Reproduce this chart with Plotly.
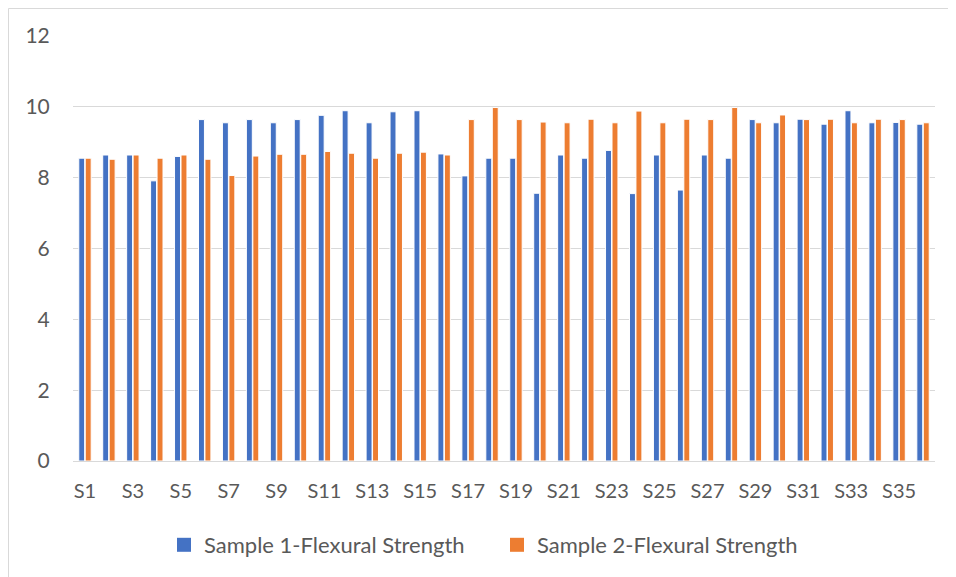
import plotly.graph_objects as go

categories = [f"S{i}" for i in range(1, 37)]
sample1 = [8.55, 8.64, 8.64, 7.91, 8.60, 9.64, 9.55, 9.64, 9.55, 9.64, 9.76, 9.89,
           9.55, 9.86, 9.89, 8.67, 8.05, 8.55, 8.55, 7.56, 8.64, 8.55, 8.77, 7.55,
           8.64, 7.65, 8.64, 8.55, 9.64, 9.55, 9.65, 9.51, 9.89, 9.55, 9.56, 9.51]
sample2 = [8.55, 8.52, 8.64, 8.55, 8.64, 8.52, 8.06, 8.61, 8.66, 8.66, 8.74, 8.69,
           8.55, 8.69, 8.72, 8.64, 9.64, 9.98, 9.64, 9.57, 9.55, 9.65, 9.55, 9.88,
           9.55, 9.65, 9.64, 9.98, 9.55, 9.77, 9.64, 9.65, 9.55, 9.65, 9.64, 9.55]
series_names = ["Sample 1-Flexural Strength", "Sample 2-Flexural Strength"]
colors = ["#4472C4", "#ED7D31"]
tick_labels = categories[::2]

FONT = "Lato"
TXT = "#595959"
GRID = "#d9d9d9"

fig = go.Figure()
for vals, name, col in zip([sample1, sample2], series_names, colors):
    fig.add_bar(x=categories, y=vals, name=name, showlegend=False,
                marker=dict(color=col, line=dict(color="white", width=1)))
# legend entries with square swatches
for name, col in zip(series_names, colors):
    fig.add_scatter(x=[None], y=[None], mode="markers", name=name,
                    marker=dict(symbol="square", size=14, color=col))

OFF = 8  # page offset of the figure
W, H = 956 - OFF, 577 - OFF + 1
L = 73 - OFF
R = 956 - 935
T = 36 - OFF
B = H - (461 - OFF)
pw, ph = W - L - R, H - T - B

def px(xpage):
    return (xpage - OFF - L) / pw

def py(ypage):
    return 1 - (ypage - OFF - T) / ph

fig.update_layout(
    width=W, height=H,
    margin=dict(l=L, r=R, t=T, b=B, pad=0),
    paper_bgcolor="white", plot_bgcolor="white",
    barmode="group", bargap=0.46, bargroupgap=0.08,
    font=dict(family=FONT, size=20, color=TXT),
    showlegend=True,
    legend=dict(orientation="h", x=px(164), xanchor="left",
                y=py(545), yanchor="middle",
                font=dict(family=FONT, size=22, color=TXT),
                itemwidth=30, traceorder="normal", tracegroupgap=0,
                entrywidth=288, entrywidthmode="pixels"),
    xaxis=dict(type="category", tickmode="array", tickvals=tick_labels, ticktext=tick_labels,
               showgrid=False, showline=True, linecolor=GRID, linewidth=1,
               ticks="outside", ticklen=12, tickcolor="rgba(0,0,0,0)",
               tickfont=dict(family=FONT, size=20, color=TXT), tickangle=0),
    yaxis=dict(range=[0, 12], dtick=2, showgrid=True, gridcolor=GRID, gridwidth=1,
               zeroline=False, showline=False,
               ticks="outside", ticklen=18, tickcolor="rgba(0,0,0,0)",
               tickfont=dict(family=FONT, size=21, color=TXT)),
    shapes=[dict(type="rect", xref="paper", yref="paper",
                 x0=px(8.5), x1=px(970),
                 y0=py(600), y1=py(8.5),
                 line=dict(color=GRID, width=1), fillcolor="rgba(0,0,0,0)", layer="below")],
)

fig.write_html("out.html")
